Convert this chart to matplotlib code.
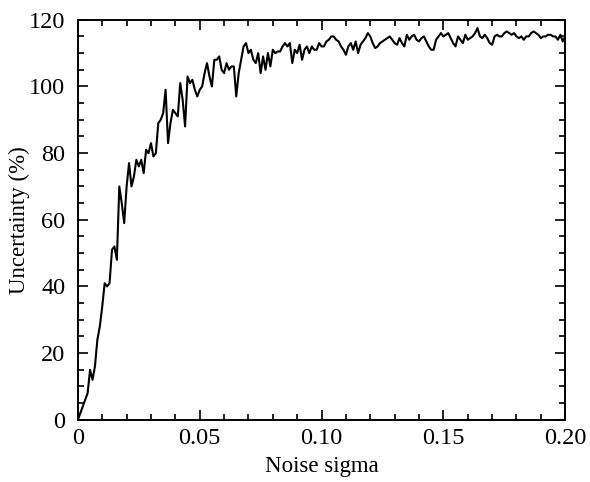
import numpy as np
import matplotlib
matplotlib.use("Agg")
import matplotlib.pyplot as plt
from matplotlib.ticker import MultipleLocator

plt.rcParams['font.family'] = ['Liberation Serif', 'DejaVu Serif']

# Uncertainty (%), one value per 0.001 of noise sigma
uncertainty = [
    0, 2, 4, 6, 8, 15, 12, 16, 24, 28,
    34, 41, 40, 41, 51, 52, 48, 70, 65, 59,
    70, 77, 70, 73, 78, 76, 78, 74, 81, 80,
    83, 79, 80, 89, 90, 92, 99, 83, 89, 93,
    92, 91, 101, 96, 88, 103, 101, 102, 99, 97,
    99, 100, 104, 107, 103, 100, 108, 108, 109, 105,
    104, 107, 105, 106, 106, 97, 104, 108, 112, 113,
    110, 111, 108, 107, 110, 104, 109, 105, 110, 106,
    111, 110, 110.5, 110.5, 112, 113, 112, 113, 107, 111,
    110, 112.5, 108, 111, 112, 110, 112, 111, 111, 113,
    112, 112, 113.5, 114, 115, 115, 114, 113.5, 112, 111,
    109.5, 112, 113, 111, 113.5, 110, 112.5, 113.5, 114.5, 116,
    115, 113, 111.5, 112, 113, 113.5, 114, 114.5, 115, 114,
    113, 112.5, 114.5, 113, 112, 115.5, 114, 115, 115.5, 114,
    113.5, 114.5, 115, 113.5, 112, 111, 111, 114, 115, 116,
    115, 115.5, 116, 114.5, 113, 112, 115, 114, 113, 115.5,
    114, 114.5, 115, 116, 117.5, 115, 114.5, 115.5, 114.5, 113,
    112.5, 115, 115.5, 115, 115, 116, 116.5, 116, 115.5, 116,
    115, 114.5, 115, 114, 115, 115, 116, 116.5, 116, 115.5,
    114.5, 115, 115, 115.5, 115.5, 115, 115, 114, 115.5, 113.5,
    115,
]
sigma = np.linspace(0, 0.2, len(uncertainty))

x_ticks = [0, 0.05, 0.10, 0.15, 0.20]
x_tick_labels = ["0", "0.05", "0.10", "0.15", "0.20"]
y_ticks = [0, 20, 40, 60, 80, 100, 120]

fig = plt.figure(figsize=(5.9, 4.82), dpi=100)
ax = fig.add_axes([0.132, 0.129, 0.826, 0.83])

ax.plot(sigma, uncertainty, color="black", linewidth=1.5)

ax.set_xlim(0, 0.2)
ax.set_ylim(0, 120)
ax.set_xticks(x_ticks)
ax.set_xticklabels(x_tick_labels)
ax.set_yticks(y_ticks)
ax.xaxis.set_minor_locator(MultipleLocator(0.01))
ax.yaxis.set_minor_locator(MultipleLocator(5))

ax.tick_params(which="both", direction="in", top=True, right=True, width=1.2, labelsize=17.5)
ax.tick_params(which="major", length=7.5)
ax.tick_params(which="minor", length=4)
ax.tick_params(axis="x", pad=6)
ax.tick_params(axis="y", pad=9)
for s in ax.spines.values():
    s.set_linewidth(1.4)

ax.set_xlabel("Noise sigma", fontsize=16.5, labelpad=5)
ax.set_ylabel("Uncertainty (%)", fontsize=16.5, labelpad=-1)

fig.savefig("out.png", dpi=100)
